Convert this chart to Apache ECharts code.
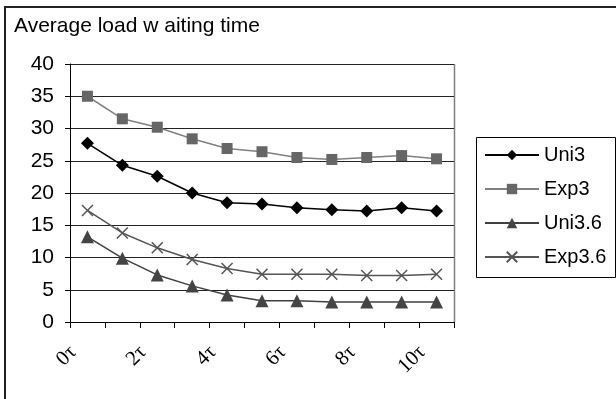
<!DOCTYPE html>
<html><head><meta charset="utf-8">
<script src="https://cdn.jsdelivr.net/npm/echarts@6/dist/echarts.min.js"></script>
<style>html,body{margin:0;padding:0;background:#fff;}#c{width:616px;height:399px;}</style>
</head><body><div id="c"></div>
<script>
var categories = ['0τ','1τ','2τ','3τ','4τ','5τ','6τ','7τ','8τ','9τ','10τ'];
var uni3   = [27.7, 24.3, 22.6, 20.0, 18.5, 18.3, 17.7, 17.4, 17.2, 17.7, 17.2];
var exp3   = [35.0, 31.5, 30.2, 28.4, 26.9, 26.4, 25.5, 25.2, 25.5, 25.8, 25.3];
var uni36  = [13.2, 9.9, 7.3, 5.6, 4.2, 3.3, 3.3, 3.1, 3.1, 3.1, 3.1];
var exp36  = [17.3, 13.8, 11.5, 9.7, 8.3, 7.4, 7.4, 7.4, 7.2, 7.2, 7.4];
var seriesNames = ['Uni3','Exp3','Uni3.6','Exp3.6'];
var yTicks = {min: 0, max: 40, interval: 5};

var chart = echarts.init(document.getElementById('c'), null, {renderer: 'canvas'});
var crossPath = 'path://M0,0L10,10M10,0L0,10';
function mk(name, data, lineColor, symColor, symbol, size, border) {
  return {
    name: name, type: 'line', data: data, symbol: symbol, symbolSize: size,
    lineStyle: {color: lineColor, width: 1.5},
    itemStyle: {color: symColor, borderColor: symColor, borderWidth: border ? 1.5 : 0},
    animation: false, z: 3
  };
}
chart.setOption({
  animation: false,
  textStyle: {fontFamily: 'Liberation Sans, Arial, sans-serif'},
  title: {text: 'Average load w aiting time', left: 9, top: 11,
    textStyle: {fontSize: 21, fontWeight: 'normal', color: '#000', fontFamily: 'Liberation Sans'}},
  grid: {left: 70, right: 162, top: 64, bottom: 77},
  xAxis: {
    type: 'category', data: categories, boundaryGap: true,
    axisLine: {lineStyle: {color: '#000', width: 1}},
    axisTick: {show: true, interval: 0, length: 6, lineStyle: {color: '#000'}},
    axisLabel: {interval: 1, rotate: 45, margin: 13, padding: [0, 20, 0, 0],
      fontFamily: 'Liberation Serif', fontSize: 21, color: '#000'},
    splitLine: {show: false}
  },
  yAxis: {
    type: 'value', min: yTicks.min, max: yTicks.max, interval: yTicks.interval,
    axisLine: {show: true, lineStyle: {color: '#000', width: 1}},
    axisTick: {show: true, length: 5, lineStyle: {color: '#000'}},
    axisLabel: {margin: 16, fontSize: 21, color: '#000', fontFamily: 'Liberation Sans'},
    splitLine: {show: true, lineStyle: {color: '#222', width: 1}}
  },
  legend: {
    orient: 'vertical', left: 484, top: 145, padding: 0, itemWidth: 54, itemHeight: 13, itemGap: 14,
    textStyle: {fontSize: 20, color: '#000', fontFamily: 'Liberation Sans'},
    data: seriesNames
  },
  graphic: [
    {type: 'rect', shape: {x: 5, y: 7, width: 630, height: 420}, style: {fill: null, stroke: '#222', lineWidth: 2}, silent: true},
    {type: 'rect', shape: {x: 476.5, y: 137.5, width: 139, height: 140}, style: {fill: null, stroke: '#000', lineWidth: 1}, silent: true},
    {type: 'line', shape: {x1: 454.5, y1: 64, x2: 454.5, y2: 322}, style: {stroke: '#808080', lineWidth: 1.5}, silent: true}
  ],
  series: [
    mk('Uni3', uni3, '#000000', '#000000', 'diamond', 13, false),
    mk('Exp3', exp3, '#808080', '#666666', 'rect', 11, false),
    mk('Uni3.6', uni36, '#404040', '#444444', 'triangle', 13, false),
    mk('Exp3.6', exp36, '#555555', '#555555', crossPath, 11, true)
  ]
});
</script></body></html>
